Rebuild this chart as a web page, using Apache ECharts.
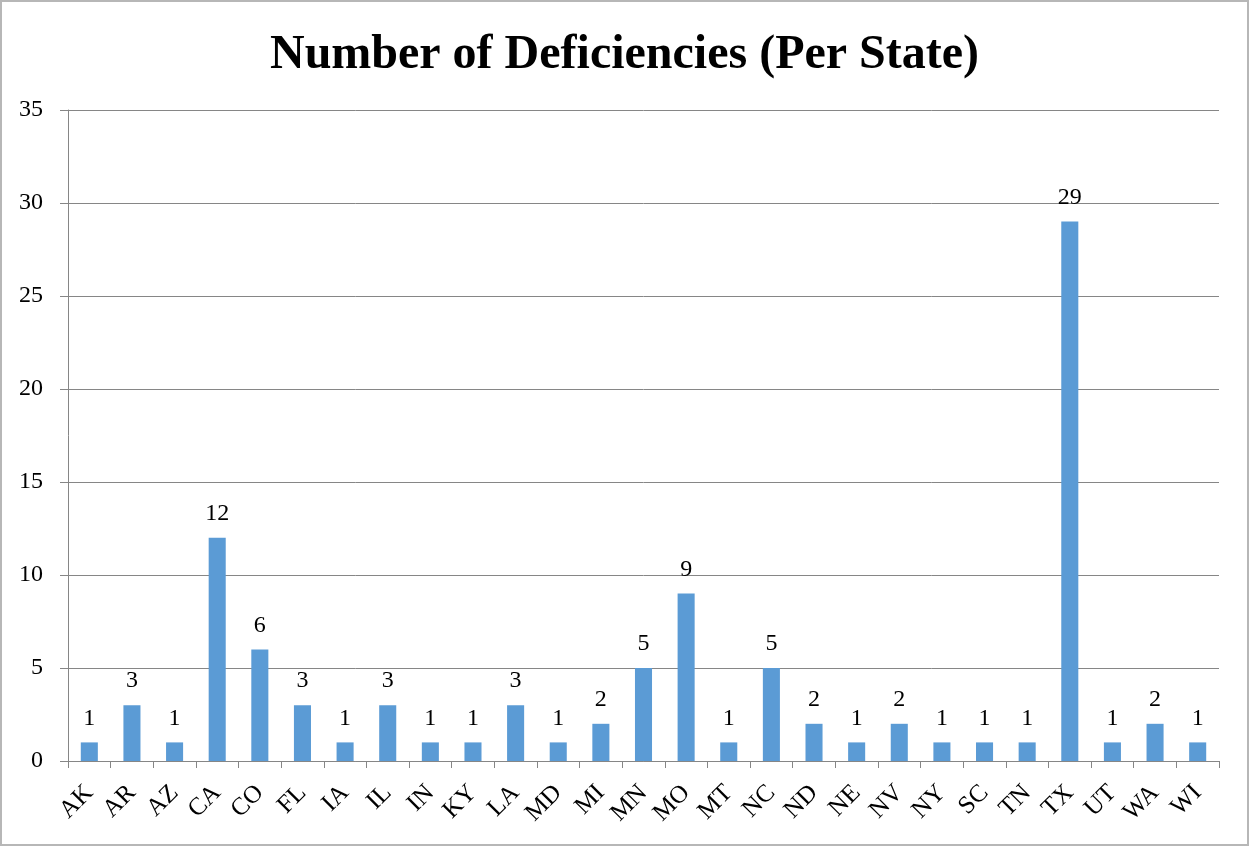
<!DOCTYPE html>
<html><head><meta charset="utf-8">
<script src="https://cdn.jsdelivr.net/npm/echarts@6/dist/echarts.min.js"></script>
<style>html,body{margin:0;padding:0;background:#fff}#c{width:1249px;height:846px;box-sizing:border-box;border:2px solid #b7b7b7}</style>
</head><body><div id="c"></div>
<script>
const titleText = 'Number of Deficiencies (Per State)';
const categories = ['AK','AR','AZ','CA','CO','FL','IA','IL','IN','KY','LA','MD','MI','MN','MO','MT','NC','ND','NE','NV','NY','SC','TN','TX','UT','WA','WI'];
const values = [1,3,1,12,6,3,1,3,1,1,3,1,2,5,9,1,5,2,1,2,1,1,1,29,1,2,1];
const yTicks = {min:0, max:35, interval:5};
const font = '"Liberation Serif","Times New Roman",serif';
const chart = echarts.init(document.getElementById('c'), null, {renderer:'canvas'});
chart.setOption({
  animation:false,
  title:{text:titleText,left:'center',top:25,textStyle:{fontFamily:font,fontWeight:'bold',fontSize:48,color:'#000'}},
  grid:{left:66,right:28,top:108,bottom:83,containLabel:false},
  xAxis:{type:'category',data:categories,
    axisLine:{lineStyle:{color:'#868686',width:1}},
    axisTick:{show:true,alignWithLabel:false,length:7,lineStyle:{color:'#868686'}},
    axisLabel:{rotate:45,interval:0,margin:28,fontFamily:font,fontSize:25,color:'#000'}},
  yAxis:{type:'value',min:yTicks.min,max:yTicks.max,interval:yTicks.interval,
    axisLine:{show:true,lineStyle:{color:'#868686'}},
    axisTick:{show:true,length:8,inside:false,lineStyle:{color:'#868686'}},
    splitLine:{lineStyle:{color:'#868686',width:1}},
    axisLabel:{margin:25,fontFamily:font,fontSize:24,color:'#000'}},
  series:[{type:'bar',data:values,barWidth:'40%',
    itemStyle:{color:'#5B9BD5'},
    label:{show:true,position:'top',distance:12,fontFamily:font,fontSize:24,color:'#000'}}]
});
</script></body></html>
